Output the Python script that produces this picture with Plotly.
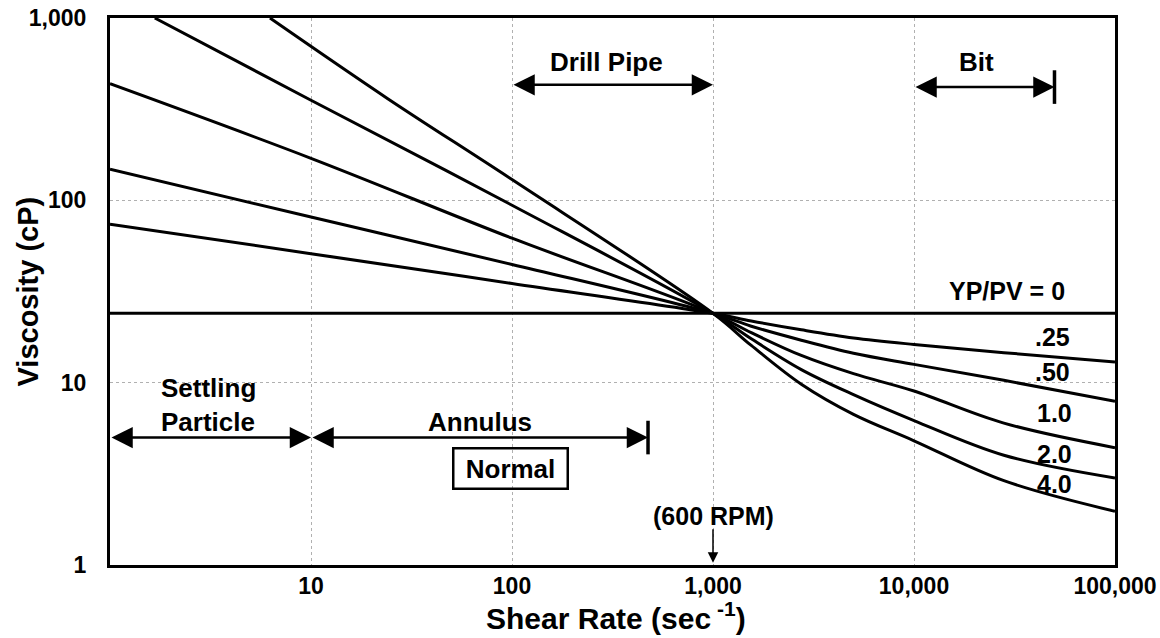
import numpy as np
import plotly.graph_objects as go

# ---------------- data ----------------
yp_pv_labels = ["YP/PV=0", ".25", ".50", "1.0", "2.0", "4.0"]

shear_yp0 = [1, 1000, 100000]
visc_yp0 = [24, 24, 24]

shear_025 = [1, 10, 100, 1000, 1550, 2750, 5000, 10000, 28000, 100000]
visc_025 = [74, 51, 35, 24, 21.8, 19.5, 17.6, 16.2, 14.6, 13.0]

shear_050 = [1, 10, 100, 1000, 1550, 2750, 5000, 10000, 28000, 100000]
visc_050 = [148, 81, 44.5, 24, 20.4, 17.1, 14.5, 12.6, 10.3, 7.9]

shear_100 = [1, 10, 100, 1000, 1550, 2750, 5000, 10000, 28000, 100000]
visc_100 = [436, 170, 62, 24, 18.8, 14.1, 11.2, 9.0, 6.0, 4.4]

shear_200 = [1.67, 10, 100, 1000, 1550, 2750, 5000, 10000, 28000, 100000]
visc_200 = [1000, 354, 94, 24, 17.4, 11.8, 8.6, 6.2, 4.0, 3.0]

shear_400 = [6.25, 24.2, 100, 1000, 1550, 2750, 5000, 10000, 28000, 100000]
visc_400 = [1000, 360, 130, 24, 16.0, 9.8, 6.7, 4.8, 2.9, 1.97]

x_tickvals = [10, 100, 1000, 10000, 100000]
x_ticktext = ["10", "100", "1,000", "10,000", "100,000"]
y_tickvals = [1, 10, 100, 1000]
y_ticktext = ["1", "10", "100", "1,000"]

# flow regions (shear-rate ranges)
drill_pipe_range = [100, 1000]
bit_range = [10000, 50000]
settling_range = [1, 10]
annulus_range = [10, 475]
rpm600_shear = 1000

# ---------------- figure ----------------
FONT = "Liberation Sans, Arial, Helvetica, sans-serif"
L = np.log10

fig = go.Figure()
series = [
    (shear_yp0, visc_yp0), (shear_025, visc_025), (shear_050, visc_050),
    (shear_100, visc_100), (shear_200, visc_200), (shear_400, visc_400),
]
for (sx, sy), name in zip(series, yp_pv_labels):
    fig.add_trace(go.Scatter(
        x=sx, y=sy, mode="lines", name=name,
        line=dict(color="black", width=3, shape="spline", smoothing=1.0),
        hoverinfo="skip", showlegend=False,
    ))

# end bars of Bit and Annulus arrows
fig.add_trace(go.Scatter(
    x=[bit_range[1], annulus_range[1]], y=[418, 5], mode="markers",
    marker=dict(symbol="line-ns", size=24, line=dict(color="black", width=3.5)),
    hoverinfo="skip", showlegend=False,
))

anns = []


def text(x, y, s, size=26, **kw):
    d = dict(x=L(x), y=L(y), xref="x", yref="y", text=s, showarrow=False,
             font=dict(family=FONT, size=size, color="black", weight="bold"))
    d.update(kw)
    anns.append(d)


def arrow2(x0, x1, y):
    anns.append(dict(
        x=L(x1), y=L(y), ax=L(x0), ay=L(y), xref="x", yref="y",
        axref="x", ayref="y", text="", showarrow=True,
        arrowhead=2, startarrowhead=2, arrowside="end+start",
        arrowsize=1.7, startarrowsize=1.7, arrowwidth=2.5, arrowcolor="black",
        standoff=0, startstandoff=0,
    ))


# Drill pipe
text(294, 573, "Drill Pipe")
arrow2(drill_pipe_range[0], drill_pipe_range[1], 430)
# Bit
text(20500, 573, "Bit")
arrow2(bit_range[0], bit_range[1], 418)
# Settling particle
text(1.75, 7.5, "Settling<br>Particle", xanchor="left", align="left")
arrow2(settling_range[0], settling_range[1], 5)
# Annulus
text(69, 6.1, "Annulus")
arrow2(annulus_range[0], annulus_range[1], 5)
# Normal box
text(98, 3.37, "&nbsp;Normal&nbsp;", bordercolor="black", borderwidth=2.5, borderpad=4)
# 600 RPM
text(rpm600_shear, 1.86, "(600 RPM)", size=25)
anns.append(dict(
    x=L(rpm600_shear), y=L(1.03), ax=L(rpm600_shear), ay=L(1.6),
    xref="x", yref="y", axref="x", ayref="y", text="", showarrow=True,
    arrowhead=2, arrowsize=1.4, arrowwidth=1.5, arrowcolor="black", standoff=0,
))
# curve labels
text(29000, 31.8, "YP/PV = 0", size=25)
text(49000, 17.7, ".25", size=25)
text(49000, 11.4, ".50", size=25)
text(50000, 6.8, "1.0", size=25)
text(50000, 4.07, "2.0", size=25)
text(50000, 2.77, "4.0", size=25)

# axis titles
anns.append(dict(
    x=0, y=0.5, xref="paper", yref="paper", xshift=-83, text="Viscosity (cP)",
    textangle=-90, showarrow=False, xanchor="center", yanchor="middle",
    font=dict(family=FONT, size=29, color="black", weight="bold"),
))
anns.append(dict(
    x=0.503, y=0, xref="paper", yref="paper", yshift=-51,
    text="Shear Rate (sec<sup> -1</sup>)",
    showarrow=False, xanchor="center", yanchor="middle",
    font=dict(family=FONT, size=30, color="black", weight="bold"),
))

fig.update_layout(
    width=1160, height=638,
    margin=dict(l=110, r=45, t=18, b=73),
    paper_bgcolor="white", plot_bgcolor="white",
    annotations=anns,
    font=dict(family=FONT, color="black"),
)
fig.update_xaxes(
    type="log", range=[0, 5], automargin=False,
    tickvals=x_tickvals, ticktext=x_ticktext,
    tickfont=dict(family=FONT, size=23, color="black", weight="bold"),
    showline=True, mirror=True, linecolor="black", linewidth=3,
    showgrid=True, gridcolor="#b0b0b0", gridwidth=1, griddash="dot",
    zeroline=False, ticks="", ticklabelstandoff=-2,
)
fig.update_yaxes(
    type="log", range=[0, 3], automargin=False,
    tickvals=y_tickvals, ticktext=y_ticktext,
    tickfont=dict(family=FONT, size=23, color="black", weight="bold"),
    showline=True, mirror=True, linecolor="black", linewidth=3,
    showgrid=True, gridcolor="#b0b0b0", gridwidth=1, griddash="dot",
    zeroline=False, ticks="", ticklabelstandoff=16,
)

fig.write_html(
    "out.html",
    config={"displayModeBar": False},
    post_script="document.body.style.margin='0';document.body.style.overflow='hidden';",
)
